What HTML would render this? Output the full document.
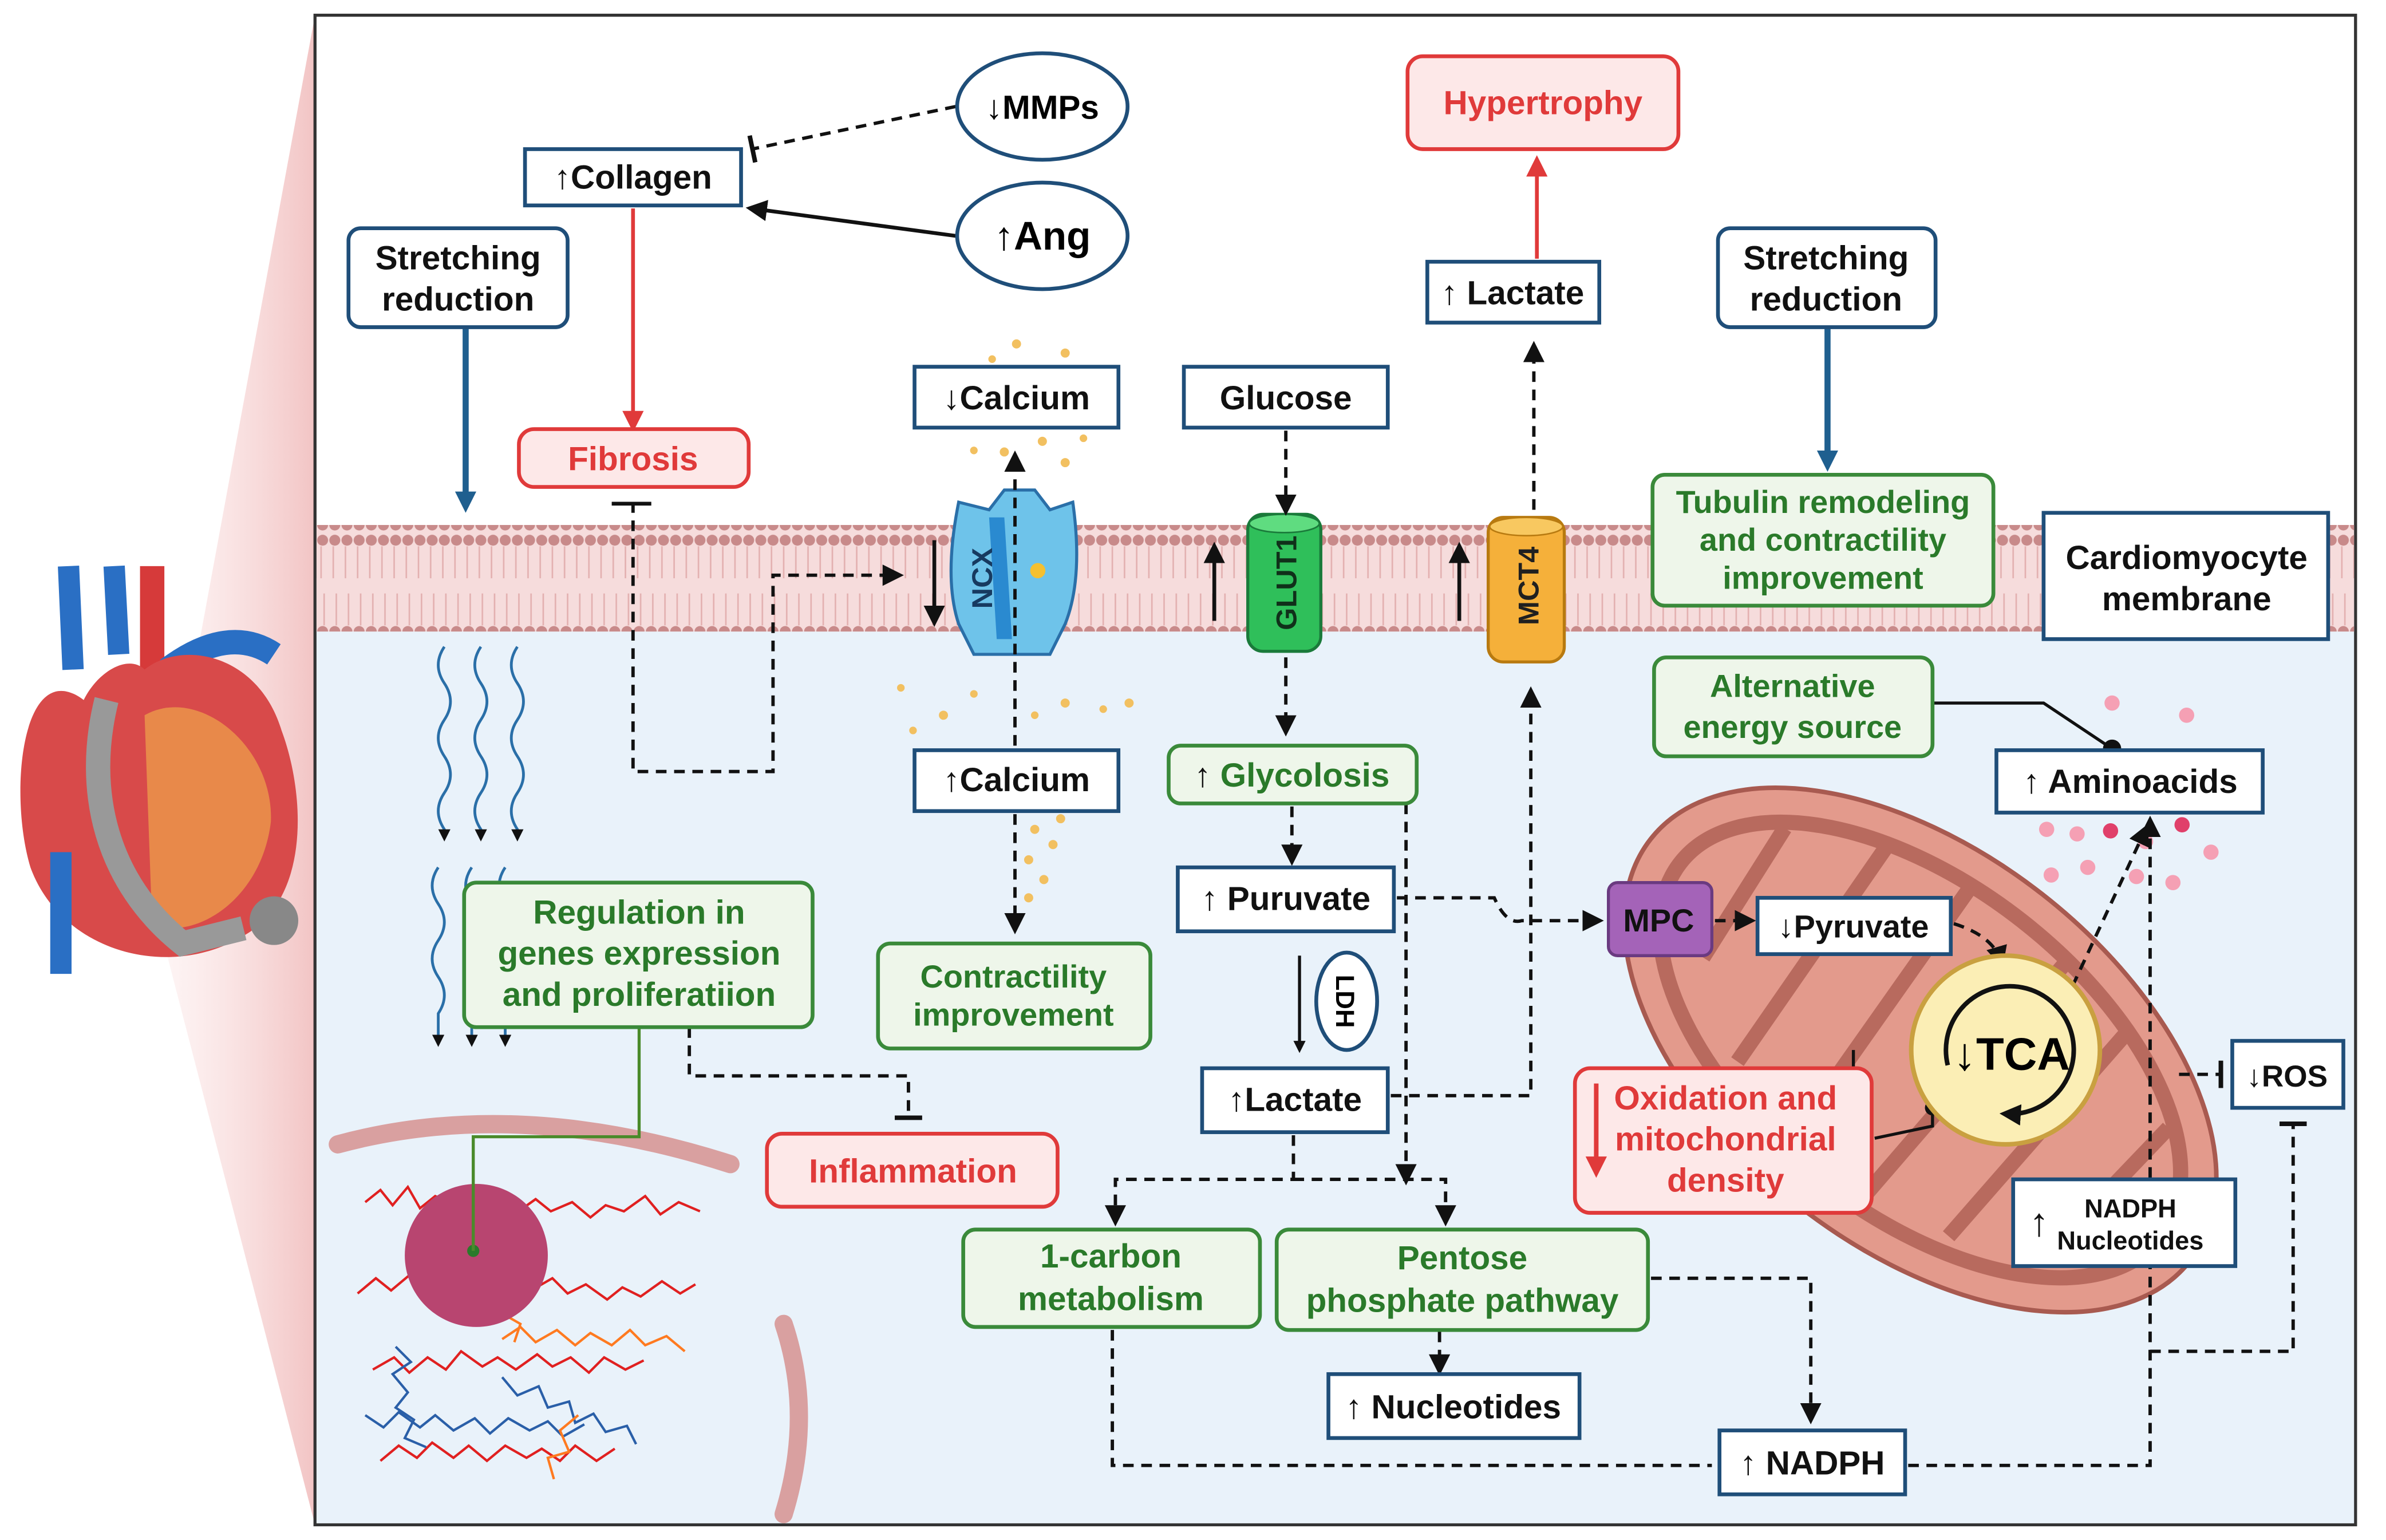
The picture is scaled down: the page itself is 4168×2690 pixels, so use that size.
<!DOCTYPE html>
<html><head><meta charset="utf-8"><style>
html,body{margin:0;padding:0;background:#fff;}
svg{display:block;}
text{font-family:"Liberation Sans",sans-serif;font-weight:bold;}
</style></head><body>
<svg width="4168" height="2690" viewBox="0 0 1568 1012" xmlns="http://www.w3.org/2000/svg">
<defs>
<marker id="ak" markerWidth="8" markerHeight="8" refX="6" refY="4" orient="auto" markerUnits="userSpaceOnUse"><path d="M0,0 L8,4 L0,8 z" fill="#111"/></marker>
<marker id="ab" markerWidth="14" markerHeight="14" refX="10" refY="7" orient="auto" markerUnits="userSpaceOnUse"><path d="M0,0 L14,7 L0,14 z" fill="#111"/></marker>
<marker id="ar" markerWidth="14" markerHeight="14" refX="10" refY="7" orient="auto" markerUnits="userSpaceOnUse"><path d="M0,0 L14,7 L0,14 z" fill="#e03a3a"/></marker>
<marker id="au" markerWidth="14" markerHeight="14" refX="10" refY="7" orient="auto" markerUnits="userSpaceOnUse"><path d="M0,0 L14,7 L0,14 z" fill="#1f5f8f"/></marker>
<marker id="tb" markerWidth="4" markerHeight="18" refX="2" refY="9" orient="auto" markerUnits="userSpaceOnUse"><rect x="0" y="0" width="3" height="18" fill="#111"/></marker>
<linearGradient id="tri" x1="0" x2="1"><stop offset="0" stop-color="#fbe3e3" stop-opacity="0.3"/><stop offset="1" stop-color="#f2c4c4"/></linearGradient>
<pattern id="mem" width="8" height="70" patternUnits="userSpaceOnUse">
<circle cx="4" cy="5" r="3.6" fill="#c88a8a"/><circle cx="4" cy="65" r="3.6" fill="#c88a8a"/>
<line x1="3" y1="9" x2="3" y2="30" stroke="#e3b0b0" stroke-width="1"/><line x1="5" y1="40" x2="5" y2="61" stroke="#e3b0b0" stroke-width="1"/>
</pattern>
</defs>
<polygon points="100,590 207,10 207,1002" fill="url(#tri)"/>
<rect x="207" y="10" width="1341" height="992" fill="#fff" stroke="#333" stroke-width="2"/>
<rect x="208" y="380" width="1339" height="621" fill="#e9f2fa"/>
<rect x="208" y="345" width="1339" height="70" fill="#f6dcdc"/>
<rect x="208" y="345" width="1339" height="70" fill="url(#mem)"/>

<!-- heart -->
<g>
<path d="M45,372 L48,440 M75,372 L78,430" stroke="#2a6fc4" stroke-width="14" fill="none"/>
<path d="M100,372 L100,440" stroke="#d63a3a" stroke-width="16"/>
<path d="M110,440 Q150,410 180,430" stroke="#2a6fc4" stroke-width="16" fill="none"/>
<path d="M55,460 C15,430 5,520 20,570 C40,625 110,645 160,615 C205,590 200,520 185,480 C170,430 120,420 95,440 C85,430 65,440 55,460 z" fill="#d84a4a"/>
<path d="M95,470 C130,450 180,490 178,540 C172,590 130,618 100,608 z" fill="#e8894a"/>
<path d="M40,560 L40,640" stroke="#2a6fc4" stroke-width="14"/>
<path d="M70,460 C55,520 70,580 120,620 L160,610" stroke="#999" stroke-width="16" fill="none"/>
<circle cx="180" cy="605" r="16" fill="#888"/>
</g>

<!-- wavy lines -->
<g stroke="#2a6fa8" stroke-width="1.8" fill="none">
<path d="M292,425 q-8,12 0,24 q8,12 0,24 q-8,12 0,24 q8,12 0,24 q-8,12 0,24 l0,6" marker-end="url(#ak)"/>
<path d="M316,425 q-8,12 0,24 q8,12 0,24 q-8,12 0,24 q8,12 0,24 q-8,12 0,24 l0,6" marker-end="url(#ak)"/>
<path d="M340,425 q-8,12 0,24 q8,12 0,24 q-8,12 0,24 q8,12 0,24 q-8,12 0,24 l0,6" marker-end="url(#ak)"/>
<path d="M288,570 q-8,12 0,24 q8,12 0,24 q-8,12 0,24 q8,12 0,24 l0,20" marker-end="url(#ak)"/>
<path d="M310,570 q-8,12 0,24 q8,12 0,24 q-8,12 0,24 q8,12 0,24 l0,20" marker-end="url(#ak)"/>
<path d="M332,570 q-8,12 0,24 q8,12 0,24 q-8,12 0,24 q8,12 0,24 l0,20" marker-end="url(#ak)"/>
</g>

<!-- cell membrane arcs & nucleus -->
<path d="M222,752 Q340,720 480,765" stroke="#d9a0a0" stroke-width="12" fill="none" stroke-linecap="round"/>
<path d="M515,870 Q535,930 515,995" stroke="#d9a0a0" stroke-width="12" fill="none" stroke-linecap="round"/>
<g fill="none" stroke-width="1.6">
<path d="M240,790 l10,-8 8,10 10,-12 8,14 10,-8 12,6 10,-10 8,12 10,-6 12,10 14,-10 10,8 14,-6 12,10 10,-8 12,4 14,-10 10,12 12,-8 14,6" stroke="#e02020"/>
<path d="M235,850 l12,-10 10,8 12,-10 10,12 12,-8 10,10 12,-8 14,6 10,-12 12,10 14,-8 10,10 12,-6 14,10 10,-8 12,6 14,-10 12,8 10,-6" stroke="#e02020"/>
<path d="M245,900 l14,-8 10,10 12,-10 12,8 10,-12 14,10 10,-6 12,8 14,-10 10,8 12,-6 12,10 10,-10 14,8 12,-6" stroke="#e02020"/>
<path d="M250,960 l12,-10 12,8 10,-10 14,10 10,-8 12,10 12,-10 14,8 10,-6 12,8 10,-10 14,10 12,-8" stroke="#e02020"/>
<path d="M300,800 l14,10 -6,12 16,6 -4,14 14,6 -6,14 14,8 -4,12" stroke="#ff7a20"/>
<path d="M330,880 l12,-8 10,10 14,-8 12,10 10,-8 14,8 12,-10 10,10 14,-6 12,10" stroke="#ff7a20"/>
<path d="M240,930 l12,8 10,-10 14,10 10,-8 12,10 14,-8 10,10 12,-10 14,8 12,-6 10,10 14,-8" stroke="#2a5fa8"/>
<path d="M260,885 l10,10 -12,8 10,12 -8,10 12,8 -6,12 14,6" stroke="#2a5fa8"/>
<path d="M330,905 l10,12 14,-6 6,14 14,-4 4,14 12,-6 8,12 14,-4 6,12" stroke="#2a5fa8"/>
<path d="M380,930 l-12,10 6,14 -14,4 4,14" stroke="#ff7a20"/>
</g>
<circle cx="313" cy="825" r="47" fill="#b84570"/>
<circle cx="311" cy="822" r="4" fill="#2a7a2a"/>
<path d="M311,822 L311,747 L420,747 L420,675" stroke="#4a8a2a" stroke-width="2" fill="none"/>

<!-- mitochondrion -->
<g transform="translate(1262,690) rotate(38)">
<ellipse cx="0" cy="0" rx="225" ry="130" fill="#e39a8c" stroke="#a85a50" stroke-width="3"/>
<ellipse cx="0" cy="0" rx="200" ry="108" fill="none" stroke="#b86a5e" stroke-width="10"/>
<path d="M-160,-60 L-150,40 M-100,-95 L-90,80 M-40,-105 L-30,100 M40,-105 L30,100 M100,-95 L90,85 M160,-60 L150,40" stroke="#b86a5e" stroke-width="10" fill="none"/>
</g>

<!-- channels -->
<path d="M630,330 L650,335 L660,322 L680,322 L690,335 L705,330 Q712,380 700,410 L690,430 L640,430 L630,410 Q620,380 630,330 z" fill="#6ec3ea" stroke="#2a6fa8" stroke-width="2"/>
<path d="M650,340 L660,340 L665,420 L655,420 z" fill="#2a8ad0"/>
<circle cx="682" cy="375" r="5" fill="#f5c030"/>
<text x="652" y="380" font-size="19" fill="#173a60" transform="rotate(-90 652 380)" text-anchor="middle">NCX</text>
<rect x="820" y="338" width="48" height="90" rx="10" fill="#2fbf5a" stroke="#1a7a3a" stroke-width="2"/>
<ellipse cx="844" cy="344" rx="23" ry="6" fill="#5fdc80" stroke="#1a7a3a"/>
<text x="852" y="383" font-size="19" fill="#10301a" transform="rotate(-90 852 383)" text-anchor="middle">GLUT1</text>
<rect x="978" y="340" width="50" height="95" rx="10" fill="#f5b03a" stroke="#b87a10" stroke-width="2"/>
<ellipse cx="1003" cy="346" rx="24" ry="6" fill="#f8c860" stroke="#b87a10"/>
<text x="1011" y="385" font-size="19" fill="#202020" transform="rotate(-90 1011 385)" text-anchor="middle">MCT4</text>

<line x1="614" y1="355" x2="614" y2="408" stroke="#111" stroke-width="2.5" marker-end="url(#ab)"/>
<line x1="798" y1="408" x2="798" y2="360" stroke="#111" stroke-width="2.5" marker-end="url(#ab)"/>
<line x1="959" y1="408" x2="959" y2="360" stroke="#111" stroke-width="2.5" marker-end="url(#ab)"/>

<g fill="#f2c060">
<circle cx="668" cy="226" r="3"/><circle cx="652" cy="236" r="2.5"/><circle cx="700" cy="232" r="3"/><circle cx="660" cy="297" r="3"/><circle cx="685" cy="290" r="3"/><circle cx="700" cy="304" r="3"/><circle cx="712" cy="288" r="2.5"/><circle cx="640" cy="296" r="2.5"/>
<circle cx="592" cy="452" r="2.5"/><circle cx="620" cy="470" r="3"/><circle cx="640" cy="456" r="2.5"/><circle cx="700" cy="462" r="3"/><circle cx="725" cy="466" r="2.5"/><circle cx="742" cy="462" r="3"/><circle cx="680" cy="470" r="2.5"/><circle cx="600" cy="480" r="2.5"/>
<circle cx="680" cy="545" r="3"/><circle cx="692" cy="555" r="3"/><circle cx="676" cy="565" r="3"/><circle cx="686" cy="578" r="3"/><circle cx="676" cy="590" r="3"/><circle cx="697" cy="538" r="3"/>
</g>
<g fill="#f5a0b4">
<circle cx="1388" cy="462" r="5"/><circle cx="1437" cy="470" r="5"/><circle cx="1345" cy="545" r="5"/><circle cx="1365" cy="548" r="5"/><circle cx="1387" cy="546" r="5" fill="#e0406a"/><circle cx="1410" cy="553" r="5"/><circle cx="1434" cy="542" r="5" fill="#e0406a"/><circle cx="1453" cy="560" r="5"/><circle cx="1348" cy="575" r="5"/><circle cx="1372" cy="570" r="5"/><circle cx="1404" cy="576" r="5"/><circle cx="1428" cy="580" r="5"/>
</g>

<g fill="none" stroke="#111" stroke-width="2.2" stroke-dasharray="7,5">
<path d="M628,70 L494,98" marker-end="url(#tb)"/>
<path d="M416,330 L416,507 L508,507 L508,378 L590,378" marker-end="url(#ab)"/>
<path d="M667,490 L667,300" marker-end="url(#ab)"/>
<path d="M667,535 L667,610" marker-end="url(#ab)"/>
<path d="M845,283 L845,335" marker-end="url(#ab)"/>
<path d="M845,432 L845,480" marker-end="url(#ab)"/>
<path d="M1008,335 L1008,228" marker-end="url(#ab)"/>
<path d="M849,530 L849,565" marker-end="url(#ab)"/>
<path d="M914,720 L1006,720 L1006,455" marker-end="url(#ab)"/>
<path d="M918,590 L982,590 Q990,608 1000,605 L1050,605" marker-end="url(#ab)"/>
<path d="M1127,605 L1150,605" marker-end="url(#ab)"/>
<path d="M1284,607 Q1310,615 1315,632" marker-end="url(#ab)"/>
<path d="M1362,648 L1410,545" marker-end="url(#ab)"/>
<path d="M924,528 L924,775" marker-end="url(#ab)"/>
<path d="M850,746 L850,775 L733,775 L733,802" marker-end="url(#ab)"/>
<path d="M850,775 L950,775 L950,802" marker-end="url(#ab)"/>
<path d="M946,875 L946,900" marker-end="url(#ab)"/>
<path d="M1085,840 L1190,840 L1190,932" marker-end="url(#ab)"/>
<path d="M731,874 L731,963 L1125,963"/>
<path d="M1254,963 L1413,963 L1413,540" marker-end="url(#ab)"/>
<path d="M1413,888 L1507,888 L1507,738" marker-end="url(#tb)"/>
<path d="M453,675 L453,707 L597,707 L597,735" marker-end="url(#tb)"/>
<path d="M1432,706 L1460,706" marker-end="url(#tb)"/>
</g>
<g fill="none" stroke-width="2.5">
<line x1="628" y1="155" x2="494" y2="137" stroke="#111" marker-end="url(#ab)"/>
<line x1="416" y1="137" x2="416" y2="280" stroke="#e03a3a" marker-end="url(#ar)"/>
<line x1="1010" y1="170" x2="1010" y2="106" stroke="#e03a3a" marker-end="url(#ar)"/>
<line x1="306" y1="216" x2="306" y2="333" stroke="#1f5f8f" stroke-width="4" marker-end="url(#au)"/>
<line x1="1201" y1="216" x2="1201" y2="306" stroke="#1f5f8f" stroke-width="4" marker-end="url(#au)"/>
<line x1="402" y1="331" x2="428" y2="331" stroke="#111"/>
<path d="M1270,462 L1343,462 L1388,492" stroke="#111" stroke-width="2"/>
<circle cx="1388" cy="492" r="6" fill="#111"/>
<line x1="854" y1="628" x2="854" y2="690" stroke="#111" stroke-width="2" marker-end="url(#ak)"/>
<path d="M1232,748 L1270,740 L1270,728" stroke="#111" stroke-width="2"/>
<circle cx="1270" cy="728" r="5" fill="#111"/>
<line x1="1218" y1="690" x2="1218" y2="702" stroke="#111" stroke-width="2"/>
</g>

<circle cx="1318" cy="690" r="62" fill="#fbeeb5" stroke="#c9a040" stroke-width="3"/>
<path d="M1280,700 A42,42 0 1 1 1318,732" fill="none" stroke="#111" stroke-width="3" marker-end="url(#ab)"/>
<text x="1322" y="703" font-size="30" text-anchor="middle">↓TCA</text>

<ellipse cx="685" cy="70" rx="56" ry="35" fill="#fff" stroke="#1f4e79" stroke-width="2.5"/>
<text x="685" y="78" font-size="22" text-anchor="middle">↓MMPs</text>
<ellipse cx="685" cy="155" rx="56" ry="35" fill="#fff" stroke="#1f4e79" stroke-width="2.5"/>
<text x="685" y="164" font-size="26" text-anchor="middle">↑Ang</text>
<ellipse cx="885" cy="658" rx="20" ry="32" fill="#fff" stroke="#1f4e79" stroke-width="2.5"/>
<text x="878" y="658" font-size="17" text-anchor="middle" transform="rotate(90 878 658)">LDH</text>

<g fill="#fff" stroke="#1f4e79" stroke-width="2.5">
<rect x="345" y="98" width="142" height="37"/>
<rect x="229" y="150" width="144" height="65" rx="8"/>
<rect x="1129" y="150" width="143" height="65" rx="8"/>
<rect x="938" y="172" width="113" height="40"/>
<rect x="601" y="241" width="134" height="40"/>
<rect x="778" y="241" width="134" height="40"/>
<rect x="1343" y="337" width="187" height="83"/>
<rect x="1312" y="493" width="175" height="41"/>
<rect x="601" y="493" width="134" height="40"/>
<rect x="774" y="570" width="142" height="42"/>
<rect x="790" y="702" width="122" height="42"/>
<rect x="1155" y="590" width="127" height="37"/>
<rect x="1467" y="684" width="73" height="44"/>
<rect x="1323" y="775" width="146" height="57"/>
<rect x="873" y="903" width="165" height="42"/>
<rect x="1130" y="940" width="122" height="42"/>
</g>
<rect x="1057" y="580" width="68" height="48" rx="6" fill="#a463b8" stroke="#6a3a80" stroke-width="2"/>
<g fill="#eef6ea" stroke="#3a8a3a" stroke-width="2.5">
<rect x="1086" y="312" width="224" height="86" rx="8"/>
<rect x="1087" y="432" width="183" height="65" rx="8"/>
<rect x="768" y="490" width="163" height="38" rx="8"/>
<rect x="577" y="620" width="179" height="69" rx="8"/>
<rect x="305" y="580" width="229" height="95" rx="8"/>
<rect x="633" y="808" width="195" height="64" rx="8"/>
<rect x="839" y="808" width="244" height="66" rx="8"/>
</g>
<g fill="#fde8e8" stroke="#e03a3a" stroke-width="2.5">
<rect x="341" y="282" width="151" height="38" rx="10"/>
<rect x="925" y="37" width="178" height="61" rx="10"/>
<rect x="504" y="745" width="191" height="48" rx="10"/>
<rect x="1035" y="702" width="195" height="95" rx="10"/>
</g>

<g font-size="22" text-anchor="middle" fill="#111">
<text x="416" y="124">↑Collagen</text>
<text x="301" y="177">Stretching</text><text x="301" y="204">reduction</text>
<text x="1200" y="177">Stretching</text><text x="1200" y="204">reduction</text>
<text x="994" y="200">↑ Lactate</text>
<text x="668" y="269">↓Calcium</text>
<text x="845" y="269">Glucose</text>
<text x="1437" y="374">Cardiomyocyte</text><text x="1437" y="401">membrane</text>
<text x="1400" y="521">↑ Aminoacids</text>
<text x="668" y="520">↑Calcium</text>
<text x="845" y="598">↑ Puruvate</text>
<text x="851" y="730">↑Lactate</text>
<text x="1090" y="612" font-size="21">MPC</text>
<text x="1218" y="616" font-size="21">↓Pyruvate</text>
<text x="1503" y="714" font-size="20">↓ROS</text>
<text x="1400" y="800" font-size="17">NADPH</text>
<text x="1400" y="821" font-size="17">Nucleotides</text>
<text x="1340" y="812" font-size="26">↑</text>
<text x="955" y="932">↑ Nucleotides</text>
<text x="1191" y="969">↑ NADPH</text>
</g>
<g font-size="21" text-anchor="middle" fill="#2a7a2a">
<text x="1198" y="337">Tubulin remodeling</text><text x="1198" y="362">and contractility</text><text x="1198" y="387">improvement</text>
<text x="1178" y="458">Alternative</text><text x="1178" y="485">energy source</text>
<text x="849" y="517" font-size="22"><tspan fill="#111">↑</tspan> Glycolosis</text>
<text x="666" y="649">Contractility</text><text x="666" y="674">improvement</text>
<text x="420" y="607" font-size="22">Regulation in</text><text x="420" y="634" font-size="22">genes expression</text><text x="420" y="661" font-size="22">and proliferatiion</text>
<text x="730" y="833" font-size="22">1-carbon</text><text x="730" y="861" font-size="22">metabolism</text>
<text x="961" y="834" font-size="22">Pentose</text><text x="961" y="862" font-size="22">phosphate pathway</text>
</g>
<g font-size="22" text-anchor="middle" fill="#e03a3a">
<text x="416" y="309">Fibrosis</text>
<text x="1014" y="75">Hypertrophy</text>
<text x="600" y="777">Inflammation</text>
<text x="1134" y="729">Oxidation and</text><text x="1134" y="756">mitochondrial</text><text x="1134" y="783">density</text>
</g>
<line x1="1049" y1="712" x2="1049" y2="770" stroke="#e03a3a" stroke-width="3" marker-end="url(#ar)"/>
</svg>
</body></html>
